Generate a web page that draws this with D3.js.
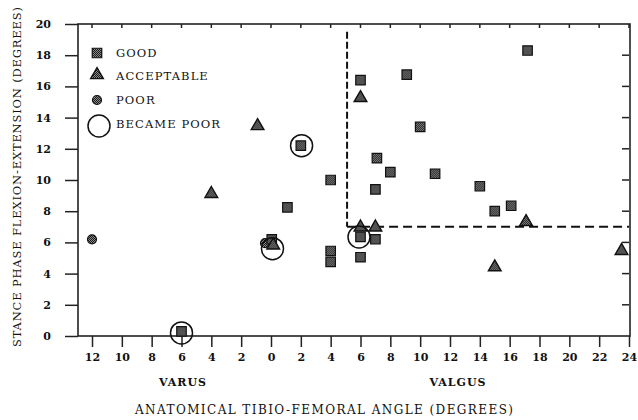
<!DOCTYPE html>
<html>
<head>
<meta charset="utf-8">
<script src="https://cdn.jsdelivr.net/npm/d3@7"></script>
<style>
  body { margin: 0; background: #fff; }
  svg { display: block; }
  text { font-family: "DejaVu Serif", "Liberation Serif", serif; fill: #111; }
</style>
</head>
<body>
<svg></svg>
<script>
// data (x: varus negative, valgus positive)
var goodPts = [
  [17.2, 18.3], [6, 16.4], [9.1, 16.75], [10, 13.4], [7.1, 11.4], [8, 10.5],
  [11, 10.4], [4, 10], [7, 9.4], [14, 9.6], [15, 8], [16.1, 8.35],
  [4, 5.45], [4, 4.75], [6, 5.05], [6, 6.35], [7, 6.2],
  [2, 12.2], [-6, 0.3], [1.1, 8.25], [0.05, 6.2]
];
var acceptPts = [
  [6, 15.2], [6, 6.9], [7, 6.9], [17.1, 7.25], [15, 4.35], [23.5, 5.4],
  [-4, 9.05], [-0.9, 13.4], [0.15, 5.75]
];
var poorPts = [[-12, 6.2], [-0.4, 5.95]];
var becamePoorPts = [[2.05, 12.2], [-6, 0.2], [5.9, 6.35], [0.1, 5.6]];

var xTicks = d3.range(-12, 25, 2);
var yTicks = d3.range(0, 21, 2);
var legendLabels = ["GOOD", "ACCEPTABLE", "POOR", "BECAME POOR"];
// acceptable region boundary
var zoneX = 5.1, zoneTop = 19.5, zoneY = 7;

var width = 638, height = 420;
var svg = d3.select("svg").attr("width", width).attr("height", height);

var defs = svg.append("defs");
var pat = defs.append("pattern")
  .attr("id", "halftone")
  .attr("width", 2).attr("height", 2)
  .attr("patternUnits", "userSpaceOnUse");
pat.append("rect").attr("width", 2).attr("height", 2).attr("fill", "#8a8a8a");
pat.append("rect").attr("width", 1).attr("height", 1).attr("fill", "#1a1a1a");
pat.append("rect").attr("x", 1).attr("y", 1).attr("width", 1).attr("height", 1).attr("fill", "#1a1a1a");

var x = d3.scaleLinear().domain([-12, 24]).range([92, 629]);
var y = d3.scaleLinear().domain([0, 20]).range([336, 24]);
var x0 = 78;

var axisColor = "#222";

// frame
svg.append("rect")
  .attr("x", x0).attr("y", y(20))
  .attr("width", x(24) + 1 - x0).attr("height", y(0) - y(20))
  .attr("fill", "none").attr("stroke", axisColor).attr("stroke-width", 1.6);

// bottom axis
var xAxis = svg.append("g")
  .attr("transform", "translate(0," + y(0) + ")")
  .call(d3.axisBottom(x).tickValues(xTicks).tickSize(11).tickPadding(6)
    .tickFormat(function(d) { return Math.abs(d); }));
xAxis.select(".domain").remove();
xAxis.selectAll("line").attr("stroke", axisColor).attr("stroke-width", 1.5);
xAxis.selectAll("text").attr("font-size", 11).attr("font-weight", "bold").attr("fill", "#111")
  .style("font-family", "DejaVu Serif");

// top ticks (inward)
svg.append("g").selectAll("line").data(xTicks).join("line")
  .attr("x1", d => x(d)).attr("x2", d => x(d))
  .attr("y1", y(20)).attr("y2", y(20) + 4)
  .attr("stroke", axisColor).attr("stroke-width", 1.5);

// left axis
var yAxis = svg.append("g")
  .attr("transform", "translate(" + x0 + ",0)")
  .call(d3.axisLeft(y).tickValues(yTicks).tickSize(13).tickPadding(14));
yAxis.select(".domain").remove();
yAxis.selectAll("line").attr("stroke", axisColor).attr("stroke-width", 1.5);
yAxis.selectAll("text").attr("font-size", 11).attr("font-weight", "bold").attr("fill", "#111")
  .style("font-family", "DejaVu Serif");

// right ticks (inward)
svg.append("g").selectAll("line").data(yTicks.slice(1, -1)).join("line")
  .attr("x1", x(24) - 7).attr("x2", x(24))
  .attr("y1", d => y(d)).attr("y2", d => y(d))
  .attr("stroke", axisColor).attr("stroke-width", 1.5);

// dashed boundary
svg.append("path")
  .attr("d", d3.line()([[x(zoneX), y(zoneTop)], [x(zoneX), y(zoneY)]]))
  .attr("stroke", "#111").attr("stroke-width", 2)
  .attr("stroke-dasharray", "7,3").attr("fill", "none");
svg.append("path")
  .attr("d", d3.line()([[x(zoneX), y(zoneY)], [x(24), y(zoneY)]]))
  .attr("stroke", "#111").attr("stroke-width", 2)
  .attr("stroke-dasharray", "9,5").attr("fill", "none");

var sq = d3.symbol().type(d3.symbolSquare).size(90);
var tri = d3.symbol().type(d3.symbolTriangle).size(70);

function drawSquares(g, pts) {
  g.selectAll(null).data(pts).join("path")
    .attr("d", sq)
    .attr("transform", d => "translate(" + x(d[0]) + "," + y(d[1]) + ")")
    .attr("fill", "url(#halftone)").attr("stroke", "#111").attr("stroke-width", 1.2);
}
function drawTriangles(g, pts) {
  g.selectAll(null).data(pts).join("path")
    .attr("d", tri)
    .attr("transform", d => "translate(" + x(d[0]) + "," + (y(d[1]) - 1) + ")")
    .attr("fill", "url(#halftone)").attr("stroke", "#111").attr("stroke-width", 1.4);
}
function drawPoor(g, pts) {
  g.selectAll(null).data(pts).join("circle")
    .attr("cx", d => x(d[0])).attr("cy", d => y(d[1])).attr("r", 4.5)
    .attr("fill", "url(#halftone)").attr("stroke", "#111").attr("stroke-width", 1.2);
}
function drawRings(g, pts) {
  g.selectAll(null).data(pts).join("circle")
    .attr("cx", d => x(d[0])).attr("cy", d => y(d[1])).attr("r", 11)
    .attr("fill", "none").attr("stroke", "#111").attr("stroke-width", 1.5);
}

var marks = svg.append("g");
drawPoor(marks.append("g"), poorPts);
drawSquares(marks.append("g"), goodPts);
drawTriangles(marks.append("g"), acceptPts);
drawRings(marks.append("g"), becamePoorPts);

// legend
var lg = svg.append("g");
var ly = [53, 76, 100, 124];
drawSquares(lg.append("g"), [[x.invert(97), y.invert(ly[0])]]);
drawTriangles(lg.append("g"), [[x.invert(97), y.invert(ly[1])]]);
drawPoor(lg.append("g"), [[x.invert(97), y.invert(ly[2])]]);
drawRings(lg.append("g"), [[x.invert(99), y.invert(ly[3] + 2)]]);
lg.selectAll("text").data(legendLabels).join("text")
  .attr("x", 116).attr("y", (d, i) => ly[i] + 4)
  .attr("font-size", 11.5).attr("letter-spacing", 1.1)
  .text(d => d);

// axis titles
svg.append("text").attr("x", 183).attr("y", 386).attr("text-anchor", "middle")
  .attr("font-size", 11).attr("font-weight", "bold").attr("letter-spacing", 1)
  .text("VARUS");
svg.append("text").attr("x", 458).attr("y", 386).attr("text-anchor", "middle")
  .attr("font-size", 11).attr("font-weight", "bold").attr("letter-spacing", 1)
  .text("VALGUS");
svg.append("text").attr("x", 135).attr("y", 414)
  .attr("font-size", 12).attr("textLength", 378).attr("lengthAdjust", "spacing")
  .text("ANATOMICAL TIBIO-FEMORAL ANGLE (DEGREES)");
svg.append("text")
  .attr("transform", "translate(21,347) rotate(-90)")
  .attr("font-size", 11.5).attr("textLength", 340).attr("lengthAdjust", "spacing")
  .text("STANCE PHASE FLEXION-EXTENSION (DEGREES)");
</script>
</body>
</html>
